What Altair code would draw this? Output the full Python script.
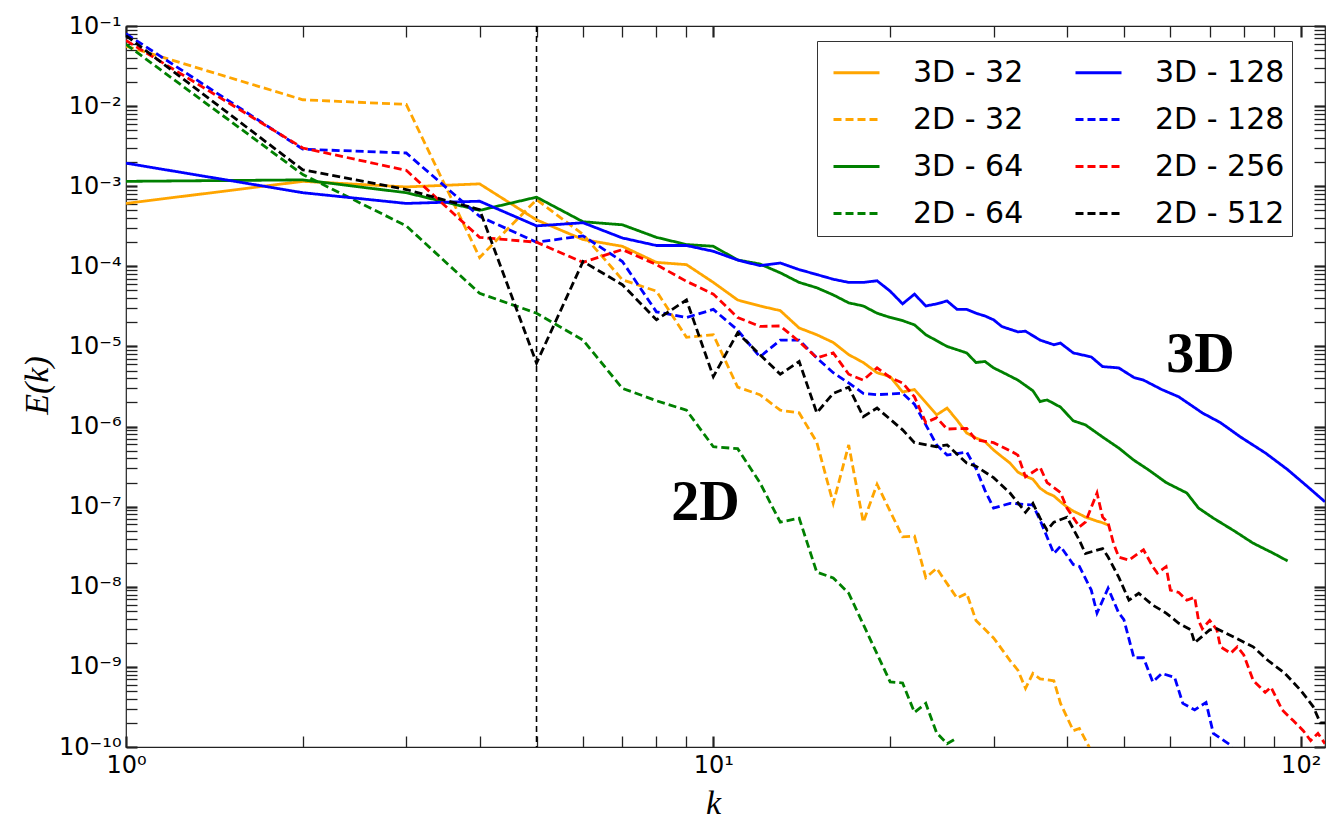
import altair as alt
import pandas as pd

# ---- energy spectra E(k) for each run ----
K_3D_32 = [1, 2, 3, 4, 5, 6, 7, 8, 9, 10, 11, 12, 13, 14, 15, 16, 17, 18, 19, 20, 21, 22, 23, 24,
           25, 26, 27, 28, 29, 30, 31, 32, 33, 34, 35, 36, 37, 38, 39, 40, 41, 42, 43, 44, 45, 46, 47]
E_3D_32 = [6.1e-4, 1.15e-3, 9.8e-4, 1.07e-3, 3.8e-4, 2.16e-4, 1.78e-4, 1.12e-4, 1.05e-4, 6.3e-5,
           3.8e-5, 3.2e-5, 2.8e-5, 1.7e-5, 1.4e-5, 1.12e-5, 7.9e-6, 6.3e-6, 4.7e-6, 4.2e-6, 2.7e-6,
           2.9e-6, 2.0e-6, 1.4e-6, 1.7e-6, 1.2e-6, 8.3e-7, 7.2e-7, 6.5e-7, 5.1e-7, 4.2e-7, 3.5e-7,
           2.7e-7, 2.4e-7, 2.2e-7, 1.7e-7, 1.48e-7, 1.36e-7, 1.15e-7, 9.9e-8, 8.8e-8, 8.1e-8, 7.4e-8,
           7.0e-8, 6.6e-8, 6.3e-8, 5.9e-8]

K_3D_64 = [1, 2, 3, 4, 5, 6, 7, 8, 9, 10, 11, 12, 13, 14, 15, 16, 17, 18, 19, 20, 21, 22, 23, 24,
           25, 26, 27, 28, 29, 30, 31, 33, 35, 36, 37, 39, 41, 43, 46, 49, 52, 55, 59, 64, 67, 71,
           77, 83, 90, 95]
E_3D_64 = [1.15e-3, 1.2e-3, 8.3e-4, 5.0e-4, 7.3e-4, 3.6e-4, 3.3e-4, 2.3e-4, 1.87e-4, 1.78e-4,
           1.2e-4, 1.07e-4, 8.3e-5, 6.3e-5, 5.4e-5, 4.4e-5, 3.5e-5, 3.2e-5, 2.6e-5, 2.3e-5, 2.1e-5,
           1.86e-5, 1.4e-5, 1.18e-5, 1.0e-5, 9.1e-6, 8.3e-6, 6.3e-6, 6.5e-6, 5.4e-6, 4.8e-6, 3.8e-6,
           2.8e-6, 2.05e-6, 2.15e-6, 1.75e-6, 1.18e-6, 1.05e-6, 7.4e-7, 5.4e-7, 3.8e-7, 2.9e-7,
           2.0e-7, 1.48e-7, 9.6e-8, 7.2e-8, 5.0e-8, 3.5e-8, 2.6e-8, 2.1e-8]

K_3D_128 = [1, 2, 3, 4, 5, 6, 7, 8, 9, 10, 11, 12, 13, 14, 15, 16, 17, 18, 19, 20, 21, 22, 23, 24,
            25, 26, 27, 28, 29, 30, 31, 33, 34, 36, 38, 39, 41, 44, 46, 49, 52, 54, 58, 62, 68, 73,
            79, 87, 95, 102, 110]
E_3D_128 = [1.94e-3, 8.3e-4, 6.1e-4, 6.5e-4, 3.2e-4, 3.5e-4, 2.26e-4, 1.82e-4, 1.82e-4, 1.54e-4,
            1.2e-4, 1.02e-4, 1.1e-4, 9.1e-5, 7.9e-5, 6.9e-5, 6.3e-5, 6.3e-5, 6.6e-5, 4.9e-5, 3.4e-5,
            4.5e-5, 3.2e-5, 3.4e-5, 3.7e-5, 2.9e-5, 2.9e-5, 2.6e-5, 2.4e-5, 2.15e-5, 1.77e-5,
            1.52e-5, 1.55e-5, 1.2e-5, 1.05e-5, 1.1e-5, 8.3e-6, 7.4e-6, 5.6e-6, 5.4e-6, 4.1e-6,
            3.8e-6, 2.9e-6, 2.35e-6, 1.48e-6, 1.12e-6, 7.4e-7, 4.7e-7, 2.9e-7, 1.86e-7, 1.15e-7]

K_2D_32 = [1, 2, 3, 4, 5, 6, 7, 8, 9, 10, 11, 12, 13, 14, 15, 16, 17, 18, 19, 21, 22, 23, 24, 26,
           27, 28, 30, 32, 33, 34, 35, 36, 38, 39, 41, 42, 44]
E_2D_32 = [5.6e-2, 1.2e-2, 1.05e-2, 1.29e-4, 6.8e-4, 2.5e-4, 6.8e-5, 4.9e-5, 1.3e-5, 1.4e-5,
           3.1e-6, 2.5e-6, 1.6e-6, 1.48e-6, 6.4e-7, 1.1e-7, 5.9e-7, 6.4e-8, 1.9e-7, 4.2e-8, 4.3e-8,
           1.3e-8, 1.7e-8, 7.2e-9, 8.3e-9, 3.8e-9, 2.3e-9, 1.2e-9, 9.1e-10, 5.4e-10, 8.3e-10,
           7.1e-10, 6.7e-10, 3.5e-10, 1.6e-10, 1.7e-10, 8.9e-11]

K_2D_64 = [1, 2, 3, 4, 5, 6, 7, 8, 9, 10, 11, 12, 13, 14, 15, 16, 17, 20, 21, 22, 23, 24, 25, 26]
E_2D_64 = [5.9e-2, 1.4e-3, 3.2e-4, 4.6e-5, 2.6e-5, 1.2e-5, 3.0e-6, 2.1e-6, 1.6e-6, 5.6e-7, 5.3e-7,
           2.0e-7, 6.4e-8, 7.2e-8, 1.52e-8, 1.29e-8, 8.3e-9, 6.5e-10, 6.3e-10, 2.7e-10, 3.5e-10,
           1.5e-10, 1.1e-10, 1.3e-10]

K_2D_128 = [1, 2, 3, 4, 5, 6, 7, 8, 9, 10, 11, 12, 13, 14, 15, 16, 17, 18, 19, 21, 22, 23, 24, 25,
            27, 28, 29, 30, 32, 35, 36, 38, 39, 41, 42, 44, 45, 47, 49, 50, 52, 54, 56, 58, 61, 63,
            66, 69, 71, 76, 78]
E_2D_128 = [8.0e-2, 2.9e-3, 2.6e-3, 4.2e-4, 2.0e-4, 2.4e-4, 1.15e-4, 2.7e-5, 2.3e-5, 2.9e-5,
            1.6e-5, 7.4e-6, 1.2e-5, 1.2e-5, 7.2e-6, 4.7e-6, 3.5e-6, 2.6e-6, 2.5e-6, 2.6e-6, 1.9e-6,
            1.05e-6, 5.9e-7, 4.4e-7, 4.8e-7, 3.0e-7, 1.6e-7, 9.6e-8, 1.1e-7, 1.05e-7, 6.8e-8,
            2.6e-8, 3.2e-8, 1.9e-8, 1.8e-8, 9.1e-9, 4.7e-9, 9.6e-9, 4.7e-9, 3.9e-9, 1.3e-9, 1.3e-9,
            6.5e-10, 8.3e-10, 7.4e-10, 3.5e-10, 2.9e-10, 3.6e-10, 1.48e-10, 1.05e-10, 6.0e-11]

K_2D_256 = [1, 2, 3, 4, 5, 6, 7, 8, 9, 10, 11, 12, 13, 14, 15, 16, 17, 18, 19, 20, 21, 22, 23, 24,
            25, 27, 28, 30, 32, 33, 34, 36, 37, 39, 40, 42, 43, 45, 46, 47, 48, 49, 51, 54, 56, 57,
            59, 60, 62, 64, 66, 67, 68, 70, 72, 73, 76, 78, 80, 83, 87, 89, 93, 97, 101, 104, 107,
            110]
E_2D_256 = [6.6e-2, 3.0e-3, 1.58e-3, 2.3e-4, 2.0e-4, 1.12e-4, 1.62e-4, 1.05e-4, 6.5e-5, 4.5e-5,
            2.3e-5, 1.78e-5, 1.8e-5, 1.15e-5, 7.2e-6, 8.3e-6, 4.5e-6, 3.8e-6, 5.4e-6, 4.1e-6,
            3.5e-6, 2.35e-6, 1.12e-6, 1.29e-6, 9.3e-7, 9.5e-7, 6.8e-7, 6.3e-7, 5.0e-7, 4.4e-7,
            2.35e-7, 3.1e-7, 2.0e-7, 1.5e-7, 9.6e-8, 5.6e-8, 6.4e-8, 1.48e-7, 7.4e-8, 6.3e-8,
            3.5e-8, 2.35e-8, 2.15e-8, 2.9e-8, 1.78e-8, 1.48e-8, 1.78e-8, 9.1e-9, 8.5e-9, 6.8e-9,
            7.4e-9, 3.8e-9, 3.0e-9, 3.8e-9, 2.9e-9, 1.78e-9, 1.48e-9, 1.78e-9, 1.41e-9, 6.8e-10,
            4.8e-10, 5.6e-10, 2.9e-10, 2.15e-10, 1.6e-10, 1.2e-10, 1.48e-10, 1.1e-10]

K_2D_512 = [1, 2, 3, 4, 5, 6, 7, 8, 9, 10, 11, 12, 13, 14, 15, 16, 17, 18, 19, 21, 22, 24, 25, 27,
            28, 30, 32, 34, 35, 36, 37, 38, 40, 42, 43, 46, 47, 49, 51, 53, 56, 59, 62, 65, 66, 70,
            72, 77, 83, 88, 94, 100, 105, 108, 110]
E_2D_512 = [7.6e-2, 1.6e-3, 9.1e-4, 5.1e-4, 6.2e-6, 1.15e-4, 5.9e-5, 2.15e-5, 3.8e-5, 4.2e-6,
            1.48e-5, 7.9e-6, 4.5e-6, 6.5e-6, 1.48e-6, 2.6e-6, 3.1e-6, 1.33e-6, 1.7e-6, 9.1e-7,
            6.3e-7, 5.6e-7, 5.9e-7, 3.5e-7, 3.2e-7, 2.3e-7, 1.48e-7, 8.5e-8, 1.1e-7, 7.2e-8,
            5.1e-8, 6.4e-8, 7.4e-8, 3.8e-8, 2.6e-8, 3.0e-8, 2.35e-8, 1.32e-8, 6.8e-9, 8.3e-9,
            5.9e-9, 4.7e-9, 3.5e-9, 2.9e-9, 2.0e-9, 2.9e-9, 3.0e-9, 2.35e-9, 1.78e-9, 1.2e-9,
            8.3e-10, 5.1e-10, 3.2e-10, 2.0e-10, 2.0e-10]

SERIES = [
    ("3D - 32", K_3D_32, E_3D_32),
    ("2D - 32", K_2D_32, E_2D_32),
    ("3D - 64", K_3D_64, E_3D_64),
    ("2D - 64", K_2D_64, E_2D_64),
    ("3D - 128", K_3D_128, E_3D_128),
    ("2D - 128", K_2D_128, E_2D_128),
    ("2D - 256", K_2D_256, E_2D_256),
    ("2D - 512", K_2D_512, E_2D_512),
]

# legend columns are filled top to bottom
LEGEND_ORDER = ["3D - 32", "2D - 32", "3D - 64", "2D - 64",
                "3D - 128", "2D - 128", "2D - 256", "2D - 512"]
LEGEND_COLORS = ["#FFA500", "#FFA500", "#008000", "#008000",
                 "#0000FF", "#0000FF", "#FF0000", "#000000"]
SOLID = [1, 0]
DASHED = [8, 4]
LEGEND_DASHES = [SOLID, DASHED, SOLID, DASHED, SOLID, DASHED, DASHED, DASHED]

# forcing scale marker
VLINE_K = [5]

# in-plot annotations
ANNOT_TEXT = ["2D", "3D"]
ANNOT_K = [9.7, 67.5]
ANNOT_E = [1.1e-7, 7.9e-6]

# axes
X_MIN, X_MAX = 1, 110
Y_MIN, Y_MAX = 1e-10, 1e-1
X_LABEL_VALUES = [1, 10, 100]
X_LABELS = ["10⁰", "10¹", "10²"]
Y_LABEL_VALUES = [1e-10, 1e-9, 1e-8, 1e-7, 1e-6, 1e-5, 1e-4, 1e-3, 1e-2, 1e-1]
Y_LABELS = ["10⁻¹⁰", "10⁻⁹", "10⁻⁸", "10⁻⁷", "10⁻⁶", "10⁻⁵", "10⁻⁴", "10⁻³", "10⁻²", "10⁻¹"]
X_MINOR = [2, 3, 4, 5, 6, 7, 8, 9, 20, 30, 40, 50, 60, 70, 80, 90]
MINOR_MULT = [2, 3, 4, 5, 6, 7, 8, 9]
Y_MINOR = [m * d for d in Y_LABEL_VALUES[:-1] for m in MINOR_MULT]
X_TICKS = sorted(X_LABEL_VALUES + X_MINOR)
Y_TICKS = sorted(Y_LABEL_VALUES + Y_MINOR)

PLOT_W, PLOT_H = 1199, 721
TICK_PX = 11

# ---- tables ----
rows = []
for name, ks, es in SERIES:
    for k, e in zip(ks, es):
        rows.append({"series": name, "k": k, "E": e})
spectra = pd.DataFrame(rows)

vline_df = pd.DataFrame({"k": VLINE_K})
annot_df = pd.DataFrame({"label": ANNOT_TEXT, "k": ANNOT_K, "E": ANNOT_E})

x_scale = alt.Scale(type="log", domain=[X_MIN, X_MAX], nice=False)
y_scale = alt.Scale(type="log", domain=[Y_MIN, Y_MAX], nice=False)

# decades get a label and a heavier tick; the in-between ticks are unlabeled
IS_DECADE = "abs(log(datum.value)/LN10 - round(log(datum.value)/LN10)) < 0.001"
x_label_expr = (IS_DECADE + " ? [" + ",".join("'%s'" % s for s in X_LABELS)
                + "][round(log(datum.value)/LN10)] : ''")
y_label_expr = (IS_DECADE + " ? [" + ",".join("'%s'" % s for s in Y_LABELS)
                + "][round(log(datum.value)/LN10)+10] : ''")
tick_width = {"condition": {"test": IS_DECADE, "value": 2.2}, "value": 1.3}

# axes sit TICK_PX inside the frame so their ticks point into the plot
x_axis = alt.Axis(
    orient="bottom", offset=-TICK_PX, values=X_TICKS, labelExpr=x_label_expr,
    ticks=True, tickSize=TICK_PX, tickWidth=tick_width, tickColor="#222222",
    domain=False, grid=False, labelOverlap=False,
    labelFont="DejaVu Sans", labelFontSize=24, labelColor="black", labelPadding=6,
    labelFlush=False, title="k", titleFont="Liberation Serif", titleFontStyle="italic",
    titleFontWeight="normal", titleFontSize=34, titleColor="black",
    titleX=587, titleY=66 + TICK_PX, titleAlign="center", titleBaseline="alphabetic",
)
y_axis = alt.Axis(
    orient="left", offset=-TICK_PX, values=Y_TICKS, labelExpr=y_label_expr,
    ticks=True, tickSize=TICK_PX, tickWidth=tick_width, tickColor="#222222",
    domain=False, grid=False, labelOverlap=False,
    labelFont="DejaVu Sans", labelFontSize=24, labelColor="black", labelPadding=5,
    labelFlush=False, title="E(k)", titleFont="Liberation Serif", titleFontStyle="italic",
    titleFontWeight="normal", titleFontSize=34, titleColor="black",
    titleX=-89 - TICK_PX, titleY=359, titleAlign="center", titleBaseline="middle",
    titleAngle=270,
)
x_axis_top = alt.Axis(
    orient="top", offset=-TICK_PX, values=X_TICKS, labels=False,
    ticks=True, tickSize=TICK_PX, tickWidth=tick_width, tickColor="#222222",
    domain=False, grid=False, title=None,
)
y_axis_right = alt.Axis(
    orient="right", offset=-TICK_PX, values=Y_TICKS, labels=False,
    ticks=True, tickSize=TICK_PX, tickWidth=tick_width, tickColor="#222222",
    domain=False, grid=False, title=None,
)

legend = alt.Legend(
    title=None, orient="none", legendX=691, legendY=15, columns=2,
    symbolType="stroke", symbolSize=2116, symbolStrokeWidth=3, symbolOffset=8,
    labelFont="DejaVu Sans", labelFontSize=30, labelColor="black", labelOffset=32,
    labelLimit=400, padding=7, rowPadding=7, columnPadding=42,
    strokeColor="#333333", fillColor="white", cornerRadius=0,
)

lines = alt.Chart(spectra).mark_line(strokeWidth=2.8, clip=True).encode(
    x=alt.X("k:Q", scale=x_scale, axis=x_axis),
    y=alt.Y("E:Q", scale=y_scale, axis=y_axis),
    color=alt.Color("series:N", scale=alt.Scale(domain=LEGEND_ORDER, range=LEGEND_COLORS),
                    legend=legend),
    strokeDash=alt.StrokeDash("series:N",
                              scale=alt.Scale(domain=LEGEND_ORDER, range=LEGEND_DASHES),
                              legend=legend),
    detail="series:N",
)

vline = alt.Chart(vline_df).mark_rule(color="black", strokeWidth=1.6, strokeDash=[6, 4]).encode(
    x=alt.X("k:Q", scale=x_scale, axis=None),
)

annots = alt.Chart(annot_df).mark_text(
    font="Liberation Serif", fontWeight="bold", fontSize=56, color="black",
    align="center", baseline="middle",
).encode(
    x=alt.X("k:Q", scale=x_scale, axis=x_axis_top),
    y=alt.Y("E:Q", scale=y_scale, axis=y_axis_right),
    text="label:N",
)

chart = alt.layer(
    vline, lines, annots,
).resolve_axis(
    x="independent", y="independent",
).properties(
    width=PLOT_W, height=PLOT_H,
    padding={"left": 126, "top": 26, "right": 11, "bottom": 79},
    autosize=alt.AutoSizeParams(type="none"),
    background="white",
).configure_view(stroke="#222222", strokeWidth=1.2)

chart.save("out.html", embed_options={"renderer": "svg", "actions": False})
